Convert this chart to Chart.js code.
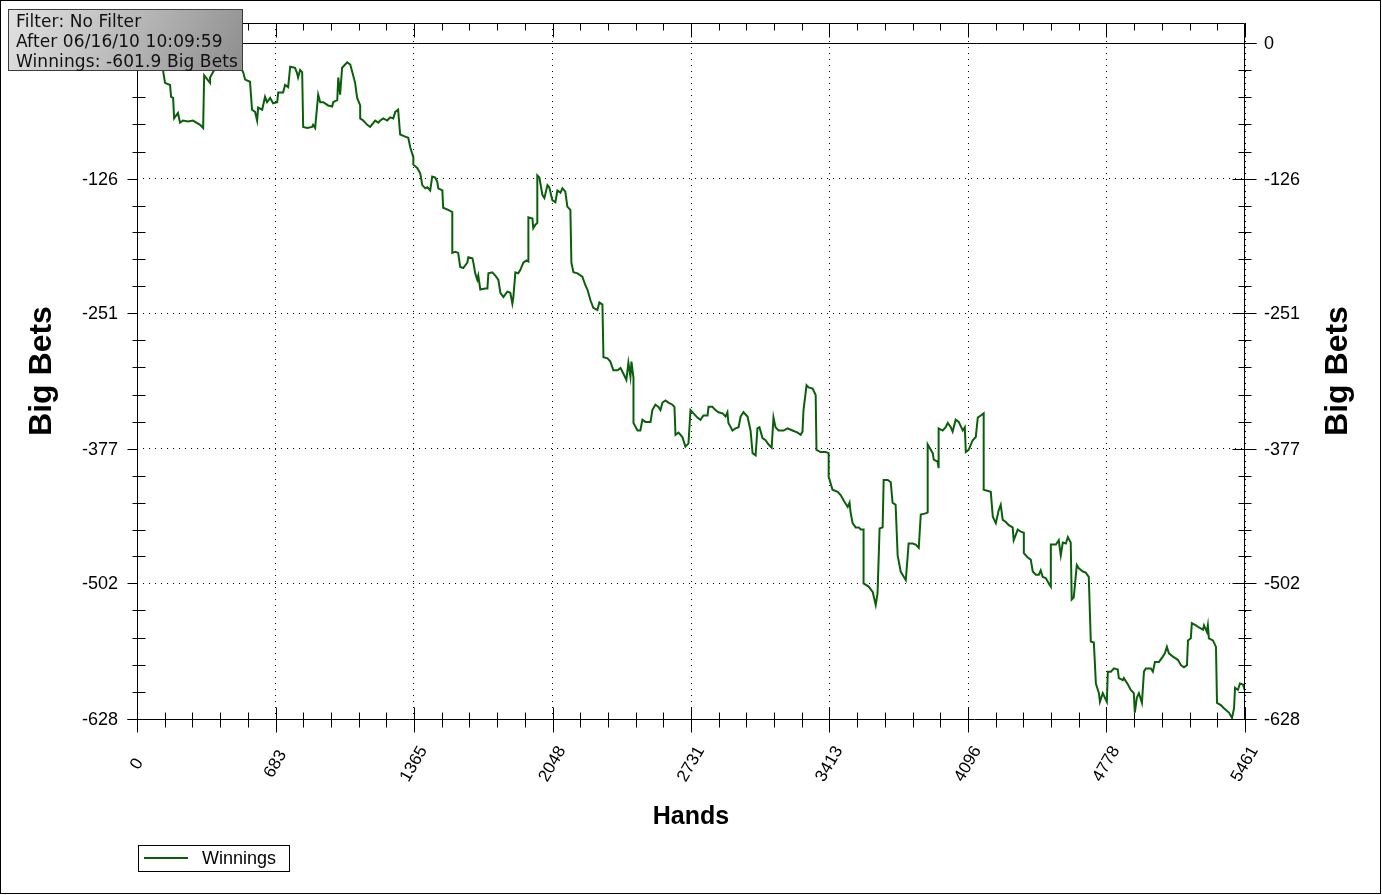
<!DOCTYPE html>
<html>
<head>
<meta charset="utf-8">
<title>Winnings</title>
<script src="https://cdn.jsdelivr.net/npm/chart.js@4.4.1/dist/chart.umd.min.js"></script>
<style>
    html, body { margin: 0; padding: 0; background: #fff; }
    #wrap { position: relative; width: 1382px; height: 895px; }
    #infoBox {
        position: absolute; left: 8px; top: 9px; width: 226px; height: 59px;
        padding: 1px 0 0 7px;
        border: 1px solid #3c3c3c;
        background: linear-gradient(115deg, #e2e2e2 0%, #bdbdbd 45%, #8e8e8e 100%);
        font-family: 'DejaVu Sans', Verdana, sans-serif; font-size: 17px; line-height: 20px;
        color: #111; white-space: nowrap; z-index: 2; letter-spacing: 0.1px;
    }
</style>
</head>
<body>
<div id="wrap">
    <canvas id="winningsChart" width="1382" height="895"></canvas>
    <div id="infoBox">
        Filter: No Filter<br>
        After 06/16/10 10:09:59<br>
        Winnings: -601.9 Big Bets
    </div>
</div>
<script>
// hands played (x) and cumulative winnings in big bets (y)
const HANDS = [
    0, 64, 113, 128, 138, 163, 168, 178, 183, 202,
    212, 227, 252, 276, 311, 326, 331, 360, 360, 375,
    409, 459, 498, 523, 533, 557, 567, 582, 592, 597,
    617, 631, 641, 656, 671, 691, 696, 720, 730, 745,
    755, 779, 789, 794, 804, 814, 819, 839, 863, 868,
    878, 893, 903, 918, 942, 962, 967, 987, 992, 1001,
    1011, 1026, 1036, 1051, 1061, 1075, 1085, 1100, 1100, 1115,
    1135, 1149, 1174, 1189, 1199, 1214, 1233, 1248, 1263, 1273,
    1287, 1297, 1322, 1337, 1347, 1362, 1362, 1381, 1396, 1406,
    1421, 1431, 1445, 1455, 1470, 1480, 1485, 1505, 1509, 1534,
    1554, 1554, 1569, 1583, 1593, 1608, 1628, 1633, 1653, 1658,
    1667, 1677, 1682, 1692, 1717, 1727, 1732, 1751, 1766, 1781,
    1791, 1806, 1825, 1840, 1850, 1855, 1865, 1879, 1889, 1904,
    1919, 1929, 1929, 1949, 1953, 1963, 1973, 1973, 1983, 1998,
    2008, 2023, 2032, 2047, 2062, 2072, 2087, 2097, 2111, 2121,
    2136, 2141, 2151, 2171, 2195, 2210, 2220, 2235, 2249, 2269,
    2279, 2294, 2299, 2319, 2333, 2348, 2368, 2383, 2397, 2412,
    2422, 2432, 2437, 2447, 2447, 2467, 2481, 2491, 2506, 2531,
    2540, 2555, 2570, 2580, 2590, 2605, 2619, 2639, 2649, 2654,
    2669, 2688, 2703, 2718, 2728, 2743, 2762, 2777, 2792, 2812,
    2817, 2836, 2851, 2866, 2886, 2901, 2910, 2915, 2935, 2950,
    2965, 2975, 2989, 3009, 3024, 3034, 3049, 3058, 3068, 3083,
    3098, 3113, 3128, 3137, 3147, 3162, 3187, 3206, 3231, 3256,
    3271, 3280, 3285, 3300, 3310, 3330, 3345, 3349, 3369, 3394,
    3409, 3409, 3428, 3453, 3468, 3483, 3503, 3512, 3517, 3527,
    3542, 3557, 3567, 3581, 3581, 3606, 3626, 3641, 3650, 3660,
    3675, 3680, 3700, 3715, 3724, 3739, 3749, 3764, 3789, 3798,
    3803, 3823, 3838, 3853, 3863, 3887, 3897, 3897, 3922, 3927,
    3946, 3951, 3951, 3971, 3986, 3996, 4011, 4020, 4035, 4050,
    4070, 4080, 4085, 4099, 4119, 4134, 4144, 4159, 4173, 4173,
    4208, 4218, 4233, 4247, 4257, 4267, 4282, 4297, 4316, 4321,
    4341, 4356, 4371, 4371, 4390, 4405, 4415, 4430, 4445, 4454,
    4464, 4479, 4494, 4504, 4504, 4529, 4543, 4553, 4563, 4578,
    4588, 4602, 4607, 4617, 4632, 4642, 4662, 4676, 4691, 4701,
    4716, 4726, 4741, 4746, 4760, 4770, 4780, 4785, 4800, 4815,
    4834, 4839, 4859, 4864, 4884, 4898, 4913, 4918, 4928, 4938,
    4953, 4963, 4972, 4997, 5007, 5017, 5037, 5056, 5066, 5076,
    5086, 5106, 5130, 5145, 5160, 5175, 5180, 5194, 5199, 5219,
    5234, 5254, 5259, 5273, 5278, 5283, 5303, 5318, 5323, 5342,
    5357, 5382, 5397, 5407, 5412, 5426, 5436, 5451, 5461
];
const WINNINGS = [
    0, -11, -18, -25, -37, -39, -50, -51, -70, -65,
    -74, -72, -73, -72, -76, -79, -30, -37, -32, -27,
    -16, -11, -18, -27, -34, -36, -62, -64, -72, -60,
    -62, -50, -55, -51, -56, -55, -46, -46, -39, -41,
    -22, -23, -28, -32, -25, -27, -78, -79, -78, -76,
    -79, -48, -55, -55, -58, -59, -55, -53, -32, -48,
    -23, -20, -18, -20, -27, -37, -51, -58, -70, -72,
    -76, -78, -72, -74, -72, -70, -72, -69, -70, -64,
    -62, -85, -87, -88, -97, -106, -113, -116, -121, -132,
    -135, -134, -137, -124, -125, -129, -135, -137, -153, -155,
    -157, -195, -194, -195, -208, -209, -204, -199, -200, -204,
    -214, -220, -216, -229, -228, -228, -214, -213, -216, -220,
    -232, -236, -231, -232, -242, -236, -213, -214, -211, -204,
    -202, -203, -162, -163, -172, -169, -167, -123, -125, -141,
    -144, -132, -134, -146, -148, -137, -139, -135, -138, -152,
    -155, -204, -213, -214, -217, -225, -229, -239, -246, -248,
    -241, -243, -292, -293, -296, -304, -304, -302, -307, -313,
    -297, -310, -296, -311, -353, -360, -360, -350, -352, -352,
    -341, -336, -338, -341, -334, -332, -334, -336, -338, -364,
    -362, -366, -375, -372, -341, -344, -348, -350, -346, -346,
    -338, -338, -341, -343, -344, -347, -343, -353, -360, -358,
    -357, -347, -343, -347, -360, -381, -383, -358, -357, -367,
    -369, -373, -376, -348, -357, -360, -360, -358, -360, -362,
    -364, -361, -341, -318, -320, -321, -327, -378, -380, -380,
    -381, -403, -415, -417, -420, -425, -431, -427, -436, -446,
    -450, -450, -452, -452, -502, -505, -510, -522, -511, -451,
    -450, -406, -406, -408, -427, -429, -476, -491, -499, -478,
    -465, -465, -466, -469, -438, -437, -436, -373, -381, -387,
    -389, -395, -358, -360, -357, -353, -357, -361, -350, -352,
    -360, -357, -380, -378, -369, -366, -348, -346, -344, -415,
    -417, -440, -446, -434, -429, -443, -445, -448, -450, -462,
    -452, -454, -455, -474, -478, -480, -491, -494, -494, -490,
    -496, -497, -502, -505, -466, -466, -462, -476, -464, -465,
    -459, -464, -517, -515, -485, -488, -491, -492, -496, -556,
    -557, -595, -604, -612, -604, -608, -612, -584, -584, -581,
    -582, -590, -592, -590, -596, -601, -604, -622, -608, -604,
    -613, -584, -581, -581, -584, -575, -575, -570, -567, -561,
    -567, -570, -573, -578, -580, -578, -555, -553, -539, -541,
    -543, -545, -541, -547, -541, -553, -555, -561, -613, -615,
    -618, -622, -627, -618, -599, -601, -595, -596, -601.9
];
const X_TICKS = [0, 683, 1365, 2048, 2731, 3413, 4096, 4778, 5461];
const Y_TICKS = [0, -126, -251, -377, -502, -628];
const Y_MAX = 18.6;
const SERIES_LABEL = 'Winnings';
const LINE_COLOR = '#0a600a';
const LABEL_FONT = "'Liberation Sans', Arial, sans-serif";

// axis frame, tick marks, labels, titles and legend box
const axisPlugin = {
    id: 'axisPlugin',
    afterDraw(chart) {
        const ctx = chart.ctx;
        const { left, right, top, bottom } = chart.chartArea;
        const xs = chart.scales.x;
        const ys = chart.scales.y;
        ctx.save();
        ctx.strokeStyle = '#000';
        ctx.lineWidth = 1;

        function seg(x1, y1, x2, y2) {
            ctx.beginPath();
            ctx.moveTo(x1, y1);
            ctx.lineTo(x2, y2);
            ctx.stroke();
        }
        const L = Math.round(left) + 0.5, R = Math.round(right) - 0.5;
        const T = Math.round(top) + 0.5, B = Math.round(bottom) + 0.5;

        // frame
        seg(L, T, R, T);
        seg(L, T, L, B);
        seg(R, T, R, B);
        seg(L - 10, B, R + 12, B);
        const yz = Math.round(ys.getPixelForValue(0)) + 0.5;
        seg(L, yz, R + 12, yz);

        // x ticks
        for (let i = 0; i < X_TICKS.length; i++) {
            const px = Math.round(xs.getPixelForValue(X_TICKS[i])) + 0.5;
            seg(px, B - 12, px, B + 13);
            seg(px, T, px, T + 14);
            if (i < X_TICKS.length - 1) {
                const step = (X_TICKS[i + 1] - X_TICKS[i]) / 5;
                for (let k = 1; k < 5; k++) {
                    const mx = Math.round(xs.getPixelForValue(X_TICKS[i] + k * step)) + 0.5;
                    seg(mx, B - 7, mx, B + 8);
                    seg(mx, T, mx, T + 7);
                }
            }
        }
        // y ticks
        for (let i = 0; i < Y_TICKS.length; i++) {
            const py = Math.round(ys.getPixelForValue(Y_TICKS[i])) + 0.5;
            seg(L - 10, py, L, py);
            seg(R - 12, py, R + 12, py);
            if (i < Y_TICKS.length - 1) {
                const step = (Y_TICKS[i + 1] - Y_TICKS[i]) / 5;
                for (let k = 1; k < 5; k++) {
                    const my = Math.round(ys.getPixelForValue(Y_TICKS[i] + k * step)) + 0.5;
                    seg(L - 5, my, L + 8, my);
                    seg(R - 6, my, R + 7, my);
                }
            }
        }

        // y labels
        ctx.fillStyle = '#000';
        ctx.font = '18px ' + LABEL_FONT;
        ctx.textBaseline = 'middle';
        Y_TICKS.forEach(v => {
            const py = ys.getPixelForValue(v);
            ctx.textAlign = 'right';
            ctx.fillText(String(v), left - 19, py + 1);
            ctx.textAlign = 'left';
            ctx.fillText(String(v), right + 19, py + 1);
        });

        // x labels, rotated
        ctx.font = '17px ' + LABEL_FONT;
        ctx.textAlign = 'center';
        X_TICKS.forEach(v => {
            const px = xs.getPixelForValue(v);
            ctx.save();
            ctx.translate(px, bottom + 45);
            ctx.rotate(-Math.PI / 3);
            ctx.fillText(String(v), 0, 0);
            ctx.restore();
        });

        // axis titles
        ctx.font = 'bold 32px ' + LABEL_FONT;
        ctx.textAlign = 'center';
        const midY = (ys.getPixelForValue(Y_TICKS[0]) + ys.getPixelForValue(Y_TICKS[Y_TICKS.length - 1])) / 2 - 10;
        [42, 1338].forEach(tx => {
            ctx.save();
            ctx.translate(tx, midY);
            ctx.rotate(-Math.PI / 2);
            ctx.fillText('Big Bets', 0, 0);
            ctx.restore();
        });
        ctx.font = 'bold 25px ' + LABEL_FONT;
        ctx.fillText('Hands', (left + right) / 2, 817);

        // legend
        ctx.strokeRect(138.5, 845.5, 151, 26);
        ctx.strokeStyle = LINE_COLOR;
        ctx.lineWidth = 2;
        seg(144, 858, 188, 858);
        ctx.font = '18px ' + LABEL_FONT;
        ctx.textAlign = 'left';
        ctx.fillText(SERIES_LABEL, 202, 859);

        // outer border
        ctx.strokeStyle = '#000';
        ctx.lineWidth = 1;
        ctx.strokeRect(0.5, 0.5, 1380, 893);
        ctx.restore();
    }
};

const ctx = document.getElementById('winningsChart').getContext('2d');
new Chart(ctx, {
    type: 'line',
    data: {
        datasets: [{
            label: SERIES_LABEL,
            data: HANDS.map((h, i) => ({ x: h, y: WINNINGS[i] })),
            borderColor: LINE_COLOR,
            borderWidth: 2,
            pointRadius: 0,
            tension: 0,
            fill: false
        }]
    },
    options: {
        responsive: false,
        animation: false,
        layout: {
            padding: { top: 23, right: 137, left: 0, bottom: 0 }
        },
        plugins: {
            legend: { display: false },
            tooltip: { enabled: false }
        },
        scales: {
            x: {
                type: 'linear',
                min: 0,
                max: 5461,
                afterBuildTicks: s => { s.ticks = X_TICKS.map(v => ({ value: v })); },
                afterFit: s => { s.height = 176; },
                ticks: { display: false },
                grid: { color: '#000', lineWidth: 1, drawTicks: false },
                border: { display: false, dash: [1, 5] }
            },
            y: {
                min: Y_TICKS[Y_TICKS.length - 1],
                max: Y_MAX,
                afterBuildTicks: s => { s.ticks = Y_TICKS.map(v => ({ value: v })); },
                afterFit: s => { s.width = 137; },
                ticks: { display: false },
                grid: { color: '#000', lineWidth: 1, drawTicks: false },
                border: { display: false, dash: [1, 5] }
            }
        }
    },
    plugins: [axisPlugin]
});
</script>
</body>
</html>
